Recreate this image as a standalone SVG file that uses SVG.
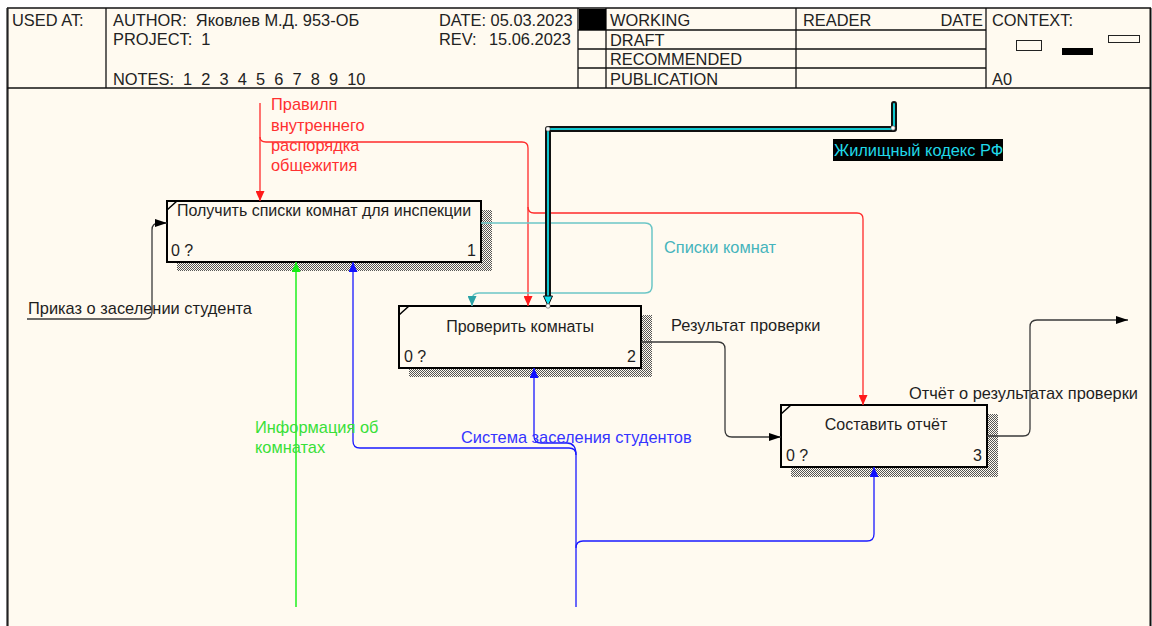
<svg xmlns="http://www.w3.org/2000/svg" width="1152" height="626" viewBox="0 0 1152 626">
  <defs>
    <style>
      text { font-family: "Liberation Sans", Arial, sans-serif; font-size: 16px; fill: #1e1e1e; }
      .hdr { font-size: 16.4px; fill: #222; }
      .al { font-size: 16.4px; }
      .rule { stroke: #111; stroke-width: 1.3; fill: none; }
      .box { fill: #FFFAF0; stroke: #000; stroke-width: 2; }
      .shadow { fill: url(#hatch); }
      .tick { stroke: #000; stroke-width: 1.5; }
      .blk { stroke: #3a3a3a; stroke-width: 1.3; fill: none; }
      .red { stroke: #FF2A2A; stroke-width: 1.3; fill: none; }
      .teal { stroke: #6CC6C6; stroke-width: 1.5; fill: none; }
      .grn { stroke: #1EF01E; stroke-width: 1.5; fill: none; }
      .blu { stroke: #1A1AFF; stroke-width: 1.3; fill: none; }
      .thick-out { stroke: #111; stroke-width: 6; fill: none; stroke-linecap: round; stroke-linejoin: round; }
      .thick-in { stroke: #10C8D0; stroke-width: 2; fill: none; stroke-linecap: round; stroke-linejoin: round; }
      .lbl-red { fill: #FF3030; }
      .lbl-teal { fill: #45B4BC; }
      .lbl-cyan { fill: #20D8E8; }
      .lbl-grn { fill: #38E038; }
      .lbl-blu { fill: #3434FF; }
    </style>
    <pattern id="hatch" patternUnits="userSpaceOnUse" width="2" height="2">
      <rect width="2" height="2" fill="#FFFAF0"/>
      <rect x="0" y="0" width="1" height="1" fill="#555"/>
      <rect x="1" y="1" width="1" height="1" fill="#555"/>
    </pattern>
    <marker id="ah-blk" markerUnits="userSpaceOnUse" markerWidth="12" markerHeight="8" viewBox="0 0 12 8" refX="12" refY="4" orient="auto">
      <path d="M0,0 L12,4 L0,8 z" fill="#000"/>
    </marker>
    <marker id="ah-red" markerUnits="userSpaceOnUse" markerWidth="10" markerHeight="9" viewBox="0 0 10 9" refX="10" refY="4.5" orient="auto">
      <path d="M0,0 L10,4.5 L0,9 z" fill="#FF1A1A"/>
    </marker>
    <marker id="ah-teal" markerUnits="userSpaceOnUse" markerWidth="10" markerHeight="9" viewBox="0 0 10 9" refX="10" refY="4.5" orient="auto">
      <path d="M0,0 L10,4.5 L0,9 z" fill="#2AA2A6"/>
    </marker>
    <marker id="ah-grn" markerUnits="userSpaceOnUse" markerWidth="10" markerHeight="9" viewBox="0 0 10 9" refX="10" refY="4.5" orient="auto">
      <path d="M0,0 L10,4.5 L0,9 z" fill="#12EE12"/>
    </marker>
    <marker id="ah-blu" markerUnits="userSpaceOnUse" markerWidth="10" markerHeight="9" viewBox="0 0 10 9" refX="10" refY="4.5" orient="auto">
      <path d="M0,0 L10,4.5 L0,9 z" fill="#1010FF"/>
    </marker>
  </defs>

  <!-- page -->
  <rect x="0" y="0" width="1152" height="626" fill="#FFFFFF"/>
  <rect x="7" y="8" width="1144" height="620" fill="#FFFAF0"/>

  <!-- frame borders -->
  <line x1="7" y1="8" x2="1151" y2="8" class="rule"/>
  <line x1="7.5" y1="8" x2="7.5" y2="626" stroke="#222" stroke-width="2.2"/>
  <line x1="1150.5" y1="8" x2="1150.5" y2="626" stroke="#111" stroke-width="2"/>

  <!-- title block -->
  <g id="header">
    <line x1="7" y1="88" x2="1151" y2="88" class="rule"/>
    <line x1="106" y1="8" x2="106" y2="88" class="rule"/>
    <line x1="578" y1="8" x2="578" y2="88" class="rule"/>
    <line x1="606" y1="8" x2="606" y2="88" class="rule"/>
    <line x1="796" y1="8" x2="796" y2="88" class="rule"/>
    <line x1="986" y1="8" x2="986" y2="88" class="rule"/>
    <line x1="578" y1="30" x2="986" y2="30" class="rule"/>
    <line x1="578" y1="49" x2="986" y2="49" class="rule"/>
    <line x1="578" y1="68" x2="986" y2="68" class="rule"/>
    <rect x="579" y="9" width="27" height="21" fill="#000"/>

    <text class="hdr" x="12" y="26">USED AT:</text>
    <text class="hdr" x="113" y="26" xml:space="preserve">AUTHOR:  Яковлев М.Д. 953-ОБ</text>
    <text class="hdr" x="113" y="45" xml:space="preserve">PROJECT:  1</text>
    <text class="hdr" x="113" y="85" xml:space="preserve">NOTES:  1  2  3  4  5  6  7  8  9  10</text>
    <text class="hdr" x="439" y="26">DATE: 05.03.2023</text>
    <text class="hdr" x="439" y="45">REV:</text>
    <text class="hdr" x="571" y="45" text-anchor="end">15.06.2023</text>

    <text class="hdr" x="610" y="26">WORKING</text>
    <text class="hdr" x="610" y="46">DRAFT</text>
    <text class="hdr" x="610" y="65">RECOMMENDED</text>
    <text class="hdr" x="610" y="85">PUBLICATION</text>
    <text class="hdr" x="803" y="26">READER</text>
    <text class="hdr" x="983" y="26" text-anchor="end">DATE</text>
    <text class="hdr" x="992" y="26">CONTEXT:</text>
    <text class="hdr" x="992" y="85">A0</text>
    <rect x="1016.5" y="40.5" width="25" height="10" fill="#FFFAF0" stroke="#222" stroke-width="1"/>
    <rect x="1062" y="48" width="31" height="7" fill="#000"/>
    <rect x="1108.5" y="35.5" width="31" height="7" fill="#FFFAF0" stroke="#222" stroke-width="1"/>
  </g>

  <!-- activity boxes -->
  <g id="node-1">
    <rect class="shadow" x="177" y="210" width="315" height="61"/>
    <rect class="box" x="167" y="201" width="314" height="61"/>
    <line class="tick" x1="167" y1="210" x2="177" y2="201"/>
    <text x="324" y="216" text-anchor="middle">Получить списки комнат для инспекции</text>
    <text x="171" y="256">0 ?</text>
    <text x="476" y="256" text-anchor="end">1</text>
  </g>

  <g id="node-2">
    <rect class="shadow" x="409" y="315" width="243" height="62"/>
    <rect class="box" x="399" y="306" width="242" height="62"/>
    <line class="tick" x1="399" y1="315" x2="409" y2="306"/>
    <text x="520" y="332" text-anchor="middle">Проверить комнаты</text>
    <text x="404" y="362">0 ?</text>
    <text x="636" y="362" text-anchor="end">2</text>
  </g>

  <g id="node-3">
    <rect class="shadow" x="791" y="414" width="207" height="63"/>
    <rect class="box" x="781" y="405" width="206" height="62"/>
    <line class="tick" x1="781" y1="414" x2="791" y2="405"/>
    <text x="886" y="430" text-anchor="middle">Составить отчёт</text>
    <text x="786" y="461">0 ?</text>
    <text x="982" y="461" text-anchor="end">3</text>
  </g>

  <!-- arrows -->
  <g id="connectors">
    <!-- input: order on settlement -->
    <path class="blk" d="M27,319 H145 Q152,319 152,312 V230 Q152,223 159,223 H167" marker-end="url(#ah-blk)"/>

    <!-- control: internal regulations -->
    <path class="red" d="M260,103 V201" marker-end="url(#ah-red)"/>
    <path class="red" d="M260,137 Q260,142 266,142 H522 Q528,142 528,148 V306" marker-end="url(#ah-red)"/>
    <path class="red" d="M528,207 Q528,213 534,213 H857 Q863,213 863,219 V405" marker-end="url(#ah-red)"/>

    <!-- output 1 -> 2: room lists -->
    <path class="teal" d="M481,223 H645 Q652,223 652,230 V286 Q652,293 645,293 H479 Q472,293 472,300 V306" marker-end="url(#ah-teal)"/>

    <!-- output 2 -> 3: check result -->
    <path class="blk" d="M641,342 H718 Q725,342 725,349 V430 Q725,437 732,437 H781" marker-end="url(#ah-blk)"/>

    <!-- output 3: report -->
    <path class="blk" d="M987,436 H1023 Q1030,436 1030,429 V327 Q1030,320 1037,320 H1128" marker-end="url(#ah-blk)"/>

    <!-- mechanism: room information -->
    <path class="grn" d="M296,607 V262" marker-end="url(#ah-grn)"/>

    <!-- mechanism: student settlement system -->
    <path class="blu" d="M576,607 V455 Q576,448 569,448 H360 Q353,448 353,441 V262" marker-end="url(#ah-blu)"/>
    <path class="blu" d="M576,455 Q576,443 567,443 H541 Q534,443 534,436 V368" marker-end="url(#ah-blu)"/>
    <path class="blu" d="M576,548 Q576,541 583,541 H867 Q874,541 874,534 V467" marker-end="url(#ah-blu)"/>

    <!-- control: housing code (bold) -->
    <path class="thick-out" d="M894,104 V129 H548 V298"/>
    <path class="thick-in" d="M894,104 V129 H548 V298"/>
    <path d="M543.5,296 L552.5,296 L548,306 z" fill="#10E0F0" stroke="#111" stroke-width="1"/>
    <circle cx="548" cy="129" r="2.2" fill="#fff" stroke="#444" stroke-width="0.6"/>
    <circle cx="893" cy="128" r="2.2" fill="#fff" stroke="#444" stroke-width="0.6"/>
    <circle cx="548" cy="306" r="2.2" fill="#fff" stroke="#444" stroke-width="0.6"/>
  </g>

  <!-- arrow labels -->
  <g id="labels">
    <text class="al" x="28" y="314">Приказ о заселении студента</text>
    <text class="al lbl-red" x="271" y="110">Правилп</text>
    <text class="al lbl-red" x="271" y="131">внутреннего</text>
    <text class="al lbl-red" x="271" y="151">распорядка</text>
    <text class="al lbl-red" x="271" y="171">общежития</text>
    <rect x="833" y="139" width="170" height="22" fill="#000"/>
    <text class="al lbl-cyan" x="834" y="156">Жилищный кодекс РФ</text>
    <text class="al lbl-teal" x="664" y="253">Списки комнат</text>
    <text class="al" x="671" y="331">Результат проверки</text>
    <text class="al" x="909" y="399">Отчёт о результатах проверки</text>
    <text class="al lbl-grn" x="255" y="433">Информация об</text>
    <text class="al lbl-grn" x="255" y="453">комнатах</text>
    <text class="al lbl-blu" x="461" y="443">Система заселения студентов</text>
  </g>
</svg>
